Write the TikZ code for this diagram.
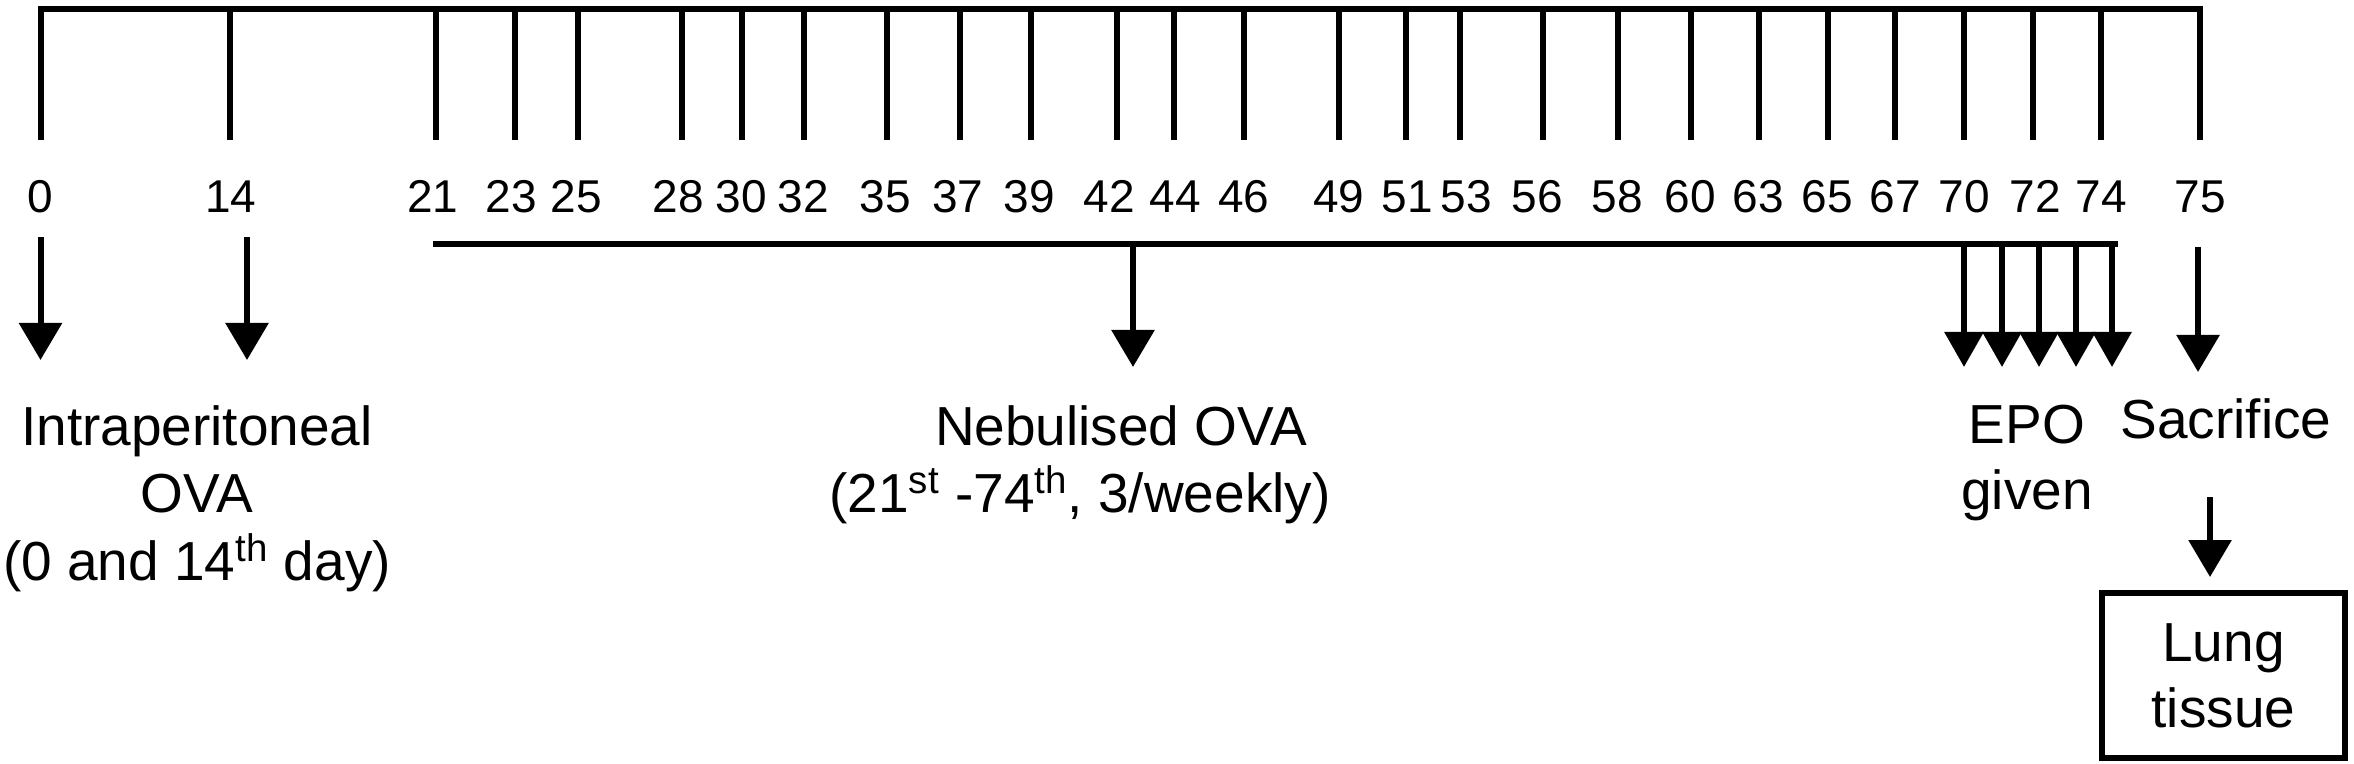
\documentclass[tikz,border=0pt]{standalone}
\usepackage{fontspec}
\setmainfont{Liberation Sans}
\usetikzlibrary{arrows.meta}
\begin{document}
\begin{tikzpicture}[x=0.5pt,y=-0.5pt,
  rule/.style={line width=3pt, line cap=butt},
  arr/.style={line width=3pt, -{Triangle[width=21pt,length=18.5pt]}},
  arrn/.style={line width=3pt, -{Triangle[width=19pt,length=17.5pt]}},
  daylbl/.style={font=\fontsize{23}{27}\selectfont, anchor=base, inner sep=0pt},
  txt/.style={font=\fontsize{27.5}{33}\selectfont, anchor=base, inner sep=0pt},
  boxnode/.style={draw, line width=3pt, minimum width=121.5pt, minimum height=82.5pt,
    align=center, font=\fontsize{27.5}{33}\selectfont, inner sep=0pt}
]
\useasboundingbox (0,0) rectangle (2354,764);
% timeline frame
\coordinate (fl) at (40.5,140);
\coordinate (ftl) at (40.5,9);
\coordinate (ftr) at (2200,9);
\coordinate (fr) at (2200,140);
\draw[rule, line join=miter] (fl) -- (ftl) -- (ftr) -- (fr);
\node[daylbl] (d0) at (40.5,213) {0};
\node[daylbl] (d75) at (2200,213) {75};
\foreach \x/\lx/\d in {230/231/14, 436/433/21, 515/511/23, 577.6/576/25, 682/678/28,
  742/741/30, 803.5/803/32, 886.6/885.4/35, 959.6/957.6/37, 1030.5/1029.5/39,
  1116.7/1109/42, 1174.4/1175.4/44, 1244.3/1243.8/46, 1339.2/1338.7/49,
  1406/1407/51, 1459.6/1466.5/53, 1542.8/1537/56, 1618/1617/58, 1691/1690/60,
  1758.5/1758/63, 1828/1827.3/65, 1895/1895.2/67, 1963.6/1964/70, 2033/2035/72,
  2100.5/2101/74}{
  \coordinate (t\d) at (\x,9);
  \coordinate (b\d) at (\x,140);
  \draw[rule] (t\d) -- (b\d);
  \node[daylbl] (d\d) at (\lx,213) {\d};
}
% nebulisation bar
\coordinate (barL) at (433,244);
\coordinate (barR) at (2118,244);
\draw[rule] (barL) -- (barR);
% intraperitoneal arrows
\coordinate (a0s) at (40.5,237);  \coordinate (a0e) at (40.5,360);
\coordinate (a14s) at (247,237);  \coordinate (a14e) at (247,360);
\draw[arr] (a0s) -- (a0e);
\draw[arr] (a14s) -- (a14e);
% nebulised arrow
\coordinate (a42s) at (1133,244); \coordinate (a42e) at (1133,367);
\draw[arr] (a42s) -- (a42e);
% EPO arrows
\foreach \i/\x in {1/1964, 2/2002, 3/2039, 4/2076, 5/2112}{
  \coordinate (e\i s) at (\x,244);
  \coordinate (e\i e) at (\x,367);
  \draw[arrn] (e\i s) -- (e\i e);
}
% sacrifice arrow
\coordinate (a75s) at (2198,247); \coordinate (a75e) at (2198,372);
\draw[arr] (a75s) -- (a75e);
% texts
\node[txt] (ip1) at (197,445) {Intraperitoneal};
\node[txt] (ip2) at (197,512) {OVA};
\node[txt] (ip3) at (197,580) {(0 and 14\textsuperscript{th} day)};
\node[txt] (nb1) at (1121,445) {Nebulised OVA};
\node[txt] (nb2) at (1080,512) {(21\textsuperscript{st} -74\textsuperscript{th}, 3/weekly)};
\node[txt] (epo1) at (2027,443) {EPO};
\node[txt] (epo2) at (2027,509) {given};
\node[txt] (sac) at (2226,438) {Sacrifice};
% lung tissue
\node[boxnode] (lung) at (2223.5,675.5) {Lung\\tissue};
\coordinate (sacs) at (2210,497);
\coordinate (sace) at (2210,577);
\draw[arr] (sacs) -- (sace);
\end{tikzpicture}
\end{document}
